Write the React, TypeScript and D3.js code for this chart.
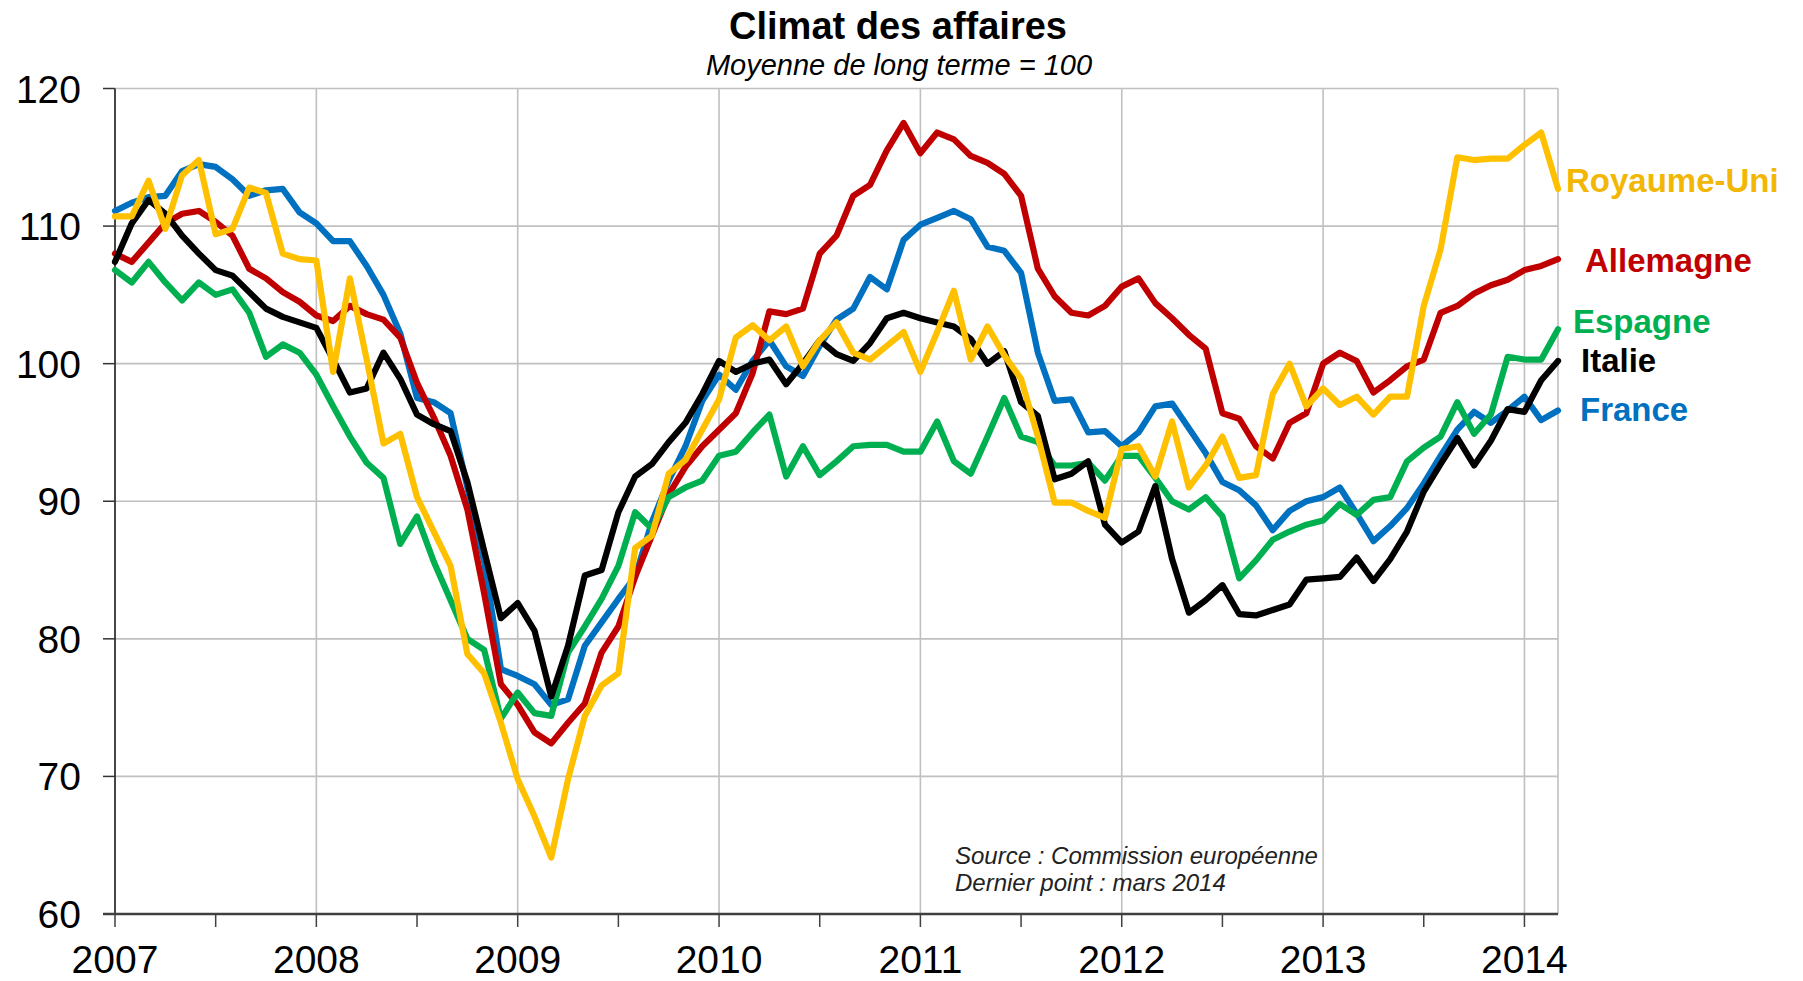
import React from 'react';
import * as d3 from 'd3';

// Monthly data, Jan 2007 (index 0) to Mar 2014 (index 86)
const yearLabels = ['2007', '2008', '2009', '2010', '2011', '2012', '2013', '2014'];
const yTicks = [60, 70, 80, 90, 100, 110, 120];

const france = [
  111.1, 111.7, 112.1, 112.2, 114.0, 114.5, 114.3, 113.4, 112.2, 112.6, 112.7, 111.0,
  110.2, 108.9, 108.9, 107.1, 105.0, 102.2, 97.5, 97.2, 96.4, 91.0, 85.6, 77.8,
  77.3, 76.7, 75.2, 75.6, 79.5, 81.2, 82.9, 84.5, 88.5, 91.5, 94.0, 97.3,
  99.2, 98.1, 100.2, 101.7, 99.8, 99.1, 101.3, 103.2, 104.0, 106.3, 105.4, 109.0,
  110.1, 110.6, 111.1, 110.5, 108.5, 108.2, 106.6, 100.8, 97.3, 97.4, 95.0, 95.1,
  94.0, 95.0, 96.9, 97.1, 95.3, 93.5, 91.4, 90.8, 89.7, 87.9, 89.3, 90.0,
  90.3, 91.0, 89.1, 87.1, 88.2, 89.5, 91.3, 93.3, 95.2, 96.5, 95.7, 96.6,
  97.6, 95.9, 96.6,
];

const allemagne = [
  108.0, 107.4, 108.8, 110.2, 110.9, 111.1, 110.3, 109.3, 106.9, 106.2, 105.2, 104.5,
  103.5, 103.1, 104.2, 103.6, 103.2, 101.9, 98.6, 96.1, 93.3, 89.4, 83.3, 76.7,
  75.2, 73.2, 72.4, 73.9, 75.3, 79.0, 80.9, 84.5, 87.5, 90.5, 92.5, 94.0,
  95.2, 96.4, 99.3, 103.8, 103.6, 104.0, 108.0, 109.3, 112.2, 113.0, 115.5, 117.5,
  115.3, 116.8, 116.3, 115.1, 114.6, 113.8, 112.2, 106.9, 104.9, 103.7, 103.5, 104.2,
  105.6, 106.2, 104.4, 103.3, 102.1, 101.1, 96.4, 96.0, 94.0, 93.1, 95.7, 96.4,
  100.0, 100.8, 100.2, 97.9, 98.8, 99.8, 100.3, 103.7, 104.2, 105.1, 105.7, 106.1,
  106.8, 107.1, 107.6,
];

const espagne = [
  106.8, 105.9, 107.4, 105.9, 104.6, 105.9, 105.0, 105.4, 103.7, 100.5, 101.4, 100.8,
  99.2, 96.9, 94.7, 92.8, 91.7, 86.9, 88.9, 85.6, 82.8, 80.0, 79.2, 74.2,
  76.1, 74.6, 74.4, 79.0, 80.9, 82.9, 85.3, 89.2, 88.0, 90.3, 91.0, 91.5,
  93.3, 93.6, 95.0, 96.3, 91.8, 94.0, 91.9, 92.9, 94.0, 94.1, 94.1, 93.6,
  93.6, 95.8, 92.9, 92.0, 94.7, 97.5, 94.7, 94.3, 92.6, 92.6, 92.8, 91.5,
  93.3, 93.3, 91.7, 90.0, 89.4, 90.3, 88.9, 84.4, 85.7, 87.2, 87.8, 88.3,
  88.6, 89.8, 89.0, 90.1, 90.3, 92.9, 93.9, 94.7, 97.2, 94.9, 96.3, 100.5,
  100.3, 100.3, 102.5,
];

const italie = [
  107.4, 110.2, 111.9, 110.9, 109.3, 108.0, 106.8, 106.4, 105.2, 104.0, 103.4, 103.0,
  102.6, 100.3, 97.9, 98.2, 100.8, 98.9, 96.3, 95.6, 95.1, 91.4, 86.4, 81.5,
  82.6, 80.6, 75.8, 79.5, 84.6, 85.0, 89.2, 91.8, 92.7, 94.3, 95.7, 97.8,
  100.2, 99.4, 100.0, 100.3, 98.5, 100.0, 101.7, 100.7, 100.2, 101.5, 103.3, 103.7,
  103.3, 103.0, 102.7, 101.8, 100.0, 100.9, 97.2, 96.2, 91.6, 92.0, 92.9, 88.3,
  87.0, 87.8, 91.1, 85.8, 81.9, 82.8, 83.9, 81.8, 81.7, 82.1, 82.5, 84.3,
  84.4, 84.5, 85.9, 84.2, 85.8, 87.8, 90.7, 92.7, 94.6, 92.6, 94.4, 96.7,
  96.5, 98.8, 100.2,
];

const royaumeUni = [
  110.7, 110.7, 113.3, 109.8, 113.7, 114.8, 109.4, 109.8, 112.8, 112.4, 108.0, 107.6,
  107.5, 99.4, 106.2, 100.3, 94.2, 94.9, 90.3, 87.8, 85.3, 78.9, 77.5, 73.9,
  69.8, 67.1, 64.1, 69.8, 74.4, 76.6, 77.5, 86.6, 87.5, 92.0, 93.0, 95.2,
  97.4, 101.9, 102.8, 101.7, 102.7, 99.8, 101.7, 103.0, 100.8, 100.3, 101.3, 102.3,
  99.4, 102.3, 105.3, 100.3, 102.7, 100.6, 98.9, 94.7, 89.9, 89.9, 89.3, 88.8,
  93.8, 94.0, 91.8, 95.8, 91.0, 92.6, 94.7, 91.7, 91.9, 97.8, 100.0, 96.9,
  98.2, 97.0, 97.6, 96.3, 97.6, 97.6, 104.2, 108.3, 115.0, 114.8, 114.9, 114.9,
  115.9, 116.8, 112.7,
];

const seriesNames = ['France', 'Allemagne', 'Espagne', 'Italie', 'Royaume-Uni'];
const seriesValues = [france, allemagne, espagne, italie, royaumeUni];
const seriesColors = ['#0070C0', '#C00000', '#00B050', '#000000', '#FFC000'];

const FONT = '"Liberation Sans", Arial, Helvetica, sans-serif';

export default function App() {
  const W = 1803;
  const H = 981;
  const nMonths = france.length;
  const x = d3.scaleLinear().domain([0, nMonths - 1]).range([115, 1558]);
  const y = d3.scaleLinear().domain([60, 120]).range([914, 88.5]);
  const line = d3
    .line<number>()
    .x((_, i) => x(i))
    .y((d) => y(d))
    .curve(d3.curveLinear);

  const yearIdx = yearLabels.map((_, i) => i * 12);
  const halfIdx = yearLabels.map((_, i) => i * 12 + 6).filter((v) => v < nMonths);

  // label placement (layout only)
  const labelPos: Record<string, { x: number; y: number; color: string }> = {
    'Royaume-Uni': { x: 1566, y: 180, color: '#F2B705' },
    Allemagne: { x: 1585, y: 260, color: '#C00000' },
    Espagne: { x: 1573, y: 321, color: '#00B050' },
    Italie: { x: 1581, y: 360, color: '#000000' },
    France: { x: 1580, y: 409, color: '#0070C0' },
  };

  const [x0, x1] = x.range();
  const [yb, yt] = y.range();

  return (
    <svg
      width={W}
      height={H}
      style={{ position: 'fixed', left: 0, top: 0, background: '#fff' }}
      fontFamily={FONT}
    >
      <rect x={0} y={0} width={W} height={H} fill="#fff" />
      {/* title */}
      <text x={898} y={39} textAnchor="middle" fontSize={38} fontWeight="bold" fill="#000">
        Climat des affaires
      </text>
      <text x={899} y={75} textAnchor="middle" fontSize={29} fontStyle="italic" fill="#000">
        Moyenne de long terme = 100
      </text>

      {/* horizontal gridlines */}
      {yTicks.filter((t) => t > 60).map((t) => (
        <line key={'hg' + t} x1={x0} x2={x1} y1={y(t)} y2={y(t)} stroke="#C0C0C0" strokeWidth={1.6} />
      ))}
      {/* vertical gridlines */}
      {yearIdx.filter((i) => i > 0).map((i) => (
        <line key={'vg' + i} x1={x(i)} x2={x(i)} y1={yt} y2={yb} stroke="#C0C0C0" strokeWidth={1.6} />
      ))}
      <line x1={x1} x2={x1} y1={yt} y2={yb} stroke="#C0C0C0" strokeWidth={1.6} />

      {/* y axis */}
      <line x1={x0} x2={x0} y1={yt} y2={yb} stroke="#333" strokeWidth={1.8} />
      {yTicks.map((t) => (
        <g key={'yt' + t}>
          <line x1={x0 - 12} x2={x0} y1={y(t)} y2={y(t)} stroke="#333" strokeWidth={1.5} />
          <text x={81} y={y(t)} dy="0.36em" textAnchor="end" fontSize={39} fill="#000">
            {t}
          </text>
        </g>
      ))}

      {/* x axis */}
      <line x1={x0 - 12} x2={x1} y1={yb} y2={yb} stroke="#404040" strokeWidth={2.6} />
      {yearIdx.map((i) => (
        <line key={'xt' + i} x1={x(i)} x2={x(i)} y1={yb} y2={yb + 13} stroke="#404040" strokeWidth={1.5} />
      ))}
      {halfIdx.map((i) => (
        <line key={'xh' + i} x1={x(i)} x2={x(i)} y1={yb} y2={yb + 13} stroke="#404040" strokeWidth={1.5} />
      ))}
      {yearLabels.map((lab, k) => (
        <text key={'xl' + lab} x={x(yearIdx[k])} y={973} textAnchor="middle" fontSize={39} fill="#000">
          {lab}
        </text>
      ))}

      {/* series */}
      {seriesValues.map((vals, k) => (
        <path
          key={seriesNames[k]}
          d={line(vals) || ''}
          fill="none"
          stroke={seriesColors[k]}
          strokeWidth={6.2}
          strokeLinejoin="round"
          strokeLinecap="round"
        />
      ))}

      {/* series labels */}
      {seriesNames.map((name) => (
        <text
          key={'lab' + name}
          x={labelPos[name].x}
          y={labelPos[name].y}
          dy="0.36em"
          fontSize={33}
          fontWeight="bold"
          fill={labelPos[name].color}
        >
          {name}
        </text>
      ))}

      {/* source */}
      <text x={955} y={864} fontSize={24} fontStyle="italic" fill="#222">
        Source :  Commission européenne
      </text>
      <text x={955} y={891} fontSize={24} fontStyle="italic" fill="#222">
        Dernier point :  mars 2014
      </text>
    </svg>
  );
}
